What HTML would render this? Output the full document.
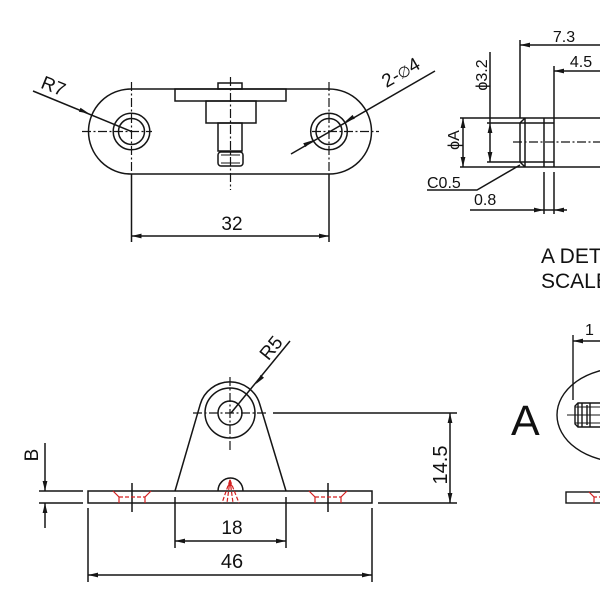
<!DOCTYPE html>
<html><head><meta charset="utf-8"><style>
html,body{margin:0;padding:0;background:#fff;}
svg{display:block;}
text{font-family:"Liberation Sans",Arial,sans-serif;fill:#111;}
</style></head><body>
<svg width="600" height="600" viewBox="0 0 600 600" xmlns="http://www.w3.org/2000/svg">
<rect x="0" y="0" width="600" height="600" fill="#fff"/>
<g fill="none" stroke="#151515" stroke-width="1.5">
  <!-- ===== Top view plate ===== -->
  <path d="M131,89 L329,89 A42.5,42.5 0 0 1 329,174 L131,174 A42.5,42.5 0 0 1 131,89 Z"/>
  <circle cx="131.5" cy="131.5" r="18.3"/>
  <circle cx="131.5" cy="131.5" r="13"/>
  <circle cx="329" cy="131.5" r="18.3"/>
  <circle cx="329" cy="131.5" r="13"/>
  <!-- pin -->
  <rect x="218" y="83" width="24" height="6"/>
  <rect x="175" y="89" width="111" height="12"/>
  <rect x="206" y="101" width="50" height="22"/>
  <rect x="218" y="123" width="24" height="28"/>
  <rect x="218" y="152" width="25" height="14" rx="3"/>
  <line x1="221" y1="155" x2="240" y2="155" stroke-width="1.1"/>
  <line x1="221" y1="163" x2="240" y2="163" stroke-width="1.1"/>
  <!-- extension lines / dims -->
  <line x1="131.5" y1="174" x2="131.5" y2="242"/>
  <line x1="329" y1="174" x2="329" y2="242"/>
  <line x1="131.5" y1="236" x2="329" y2="236"/>
  <!-- R7 leader -->
  <line x1="33" y1="91" x2="131.5" y2="131.5"/>
  <!-- 2-phi4 leader -->
  <line x1="291" y1="154" x2="435" y2="71"/>
</g>
<g fill="none" stroke="#151515" stroke-width="1.2" stroke-dasharray="9 2.5 2 2.5">
  <line x1="82" y1="131.5" x2="152" y2="131.5"/>
  <line x1="131.5" y1="82" x2="131.5" y2="174"/>
  <line x1="312" y1="131.5" x2="379" y2="131.5"/>
  <line x1="329" y1="82" x2="329" y2="174"/>
  <line x1="230.5" y1="77" x2="230.5" y2="190"/>
</g>
<g fill="#151515" stroke="none">
  <polygon points="131.5,236 141.5,233.6 141.5,238.4"/>
  <polygon points="329,236 319,233.6 319,238.4"/>
  <polygon points="89,113.5 80.5,107.7 78.9,111.7"/>
  <polygon points="313,140.2 305.4,147.1 303.2,143.3"/>
  <polygon points="345,121.8 354.8,118.7 352.6,114.9"/>
</g>
<text x="232" y="230" font-size="19" text-anchor="middle">32</text>
<text x="0" y="0" font-size="19" text-anchor="middle" transform="translate(51,92) rotate(22)">R7</text>
<text x="0" y="0" font-size="19" text-anchor="middle" transform="translate(404,78) rotate(-30)">2-<tspan font-size="15">∅</tspan>4</text>

<!-- ===== Top right detail ===== -->
<g fill="none" stroke="#151515" stroke-width="1.5">
  <line x1="460" y1="118" x2="600" y2="118"/>
  <line x1="460" y1="167" x2="600" y2="167"/>
  <line x1="487" y1="123" x2="554" y2="123"/>
  <line x1="487" y1="162" x2="554" y2="162"/>
  <line x1="520" y1="40" x2="520" y2="118"/>
  <line x1="520" y1="123" x2="520" y2="162"/>
  <line x1="520" y1="123" x2="525" y2="118"/>
  <line x1="520" y1="162" x2="525" y2="167"/>
  <line x1="525" y1="118" x2="525" y2="167"/>
  <line x1="544" y1="118" x2="544" y2="167"/>
  <line x1="544" y1="172" x2="544" y2="214"/>
  <line x1="554" y1="66" x2="554" y2="167"/>
  <line x1="554" y1="172" x2="554" y2="214"/>
  <line x1="520" y1="45" x2="600" y2="45"/>
  <line x1="554" y1="71" x2="600" y2="71"/>
  <line x1="490" y1="52" x2="490" y2="162"/>
  <line x1="463" y1="118" x2="463" y2="167"/>
  <line x1="470" y1="210" x2="567" y2="210"/>
  <polyline points="427,190 477,190 520,165"/>
</g>
<line x1="513" y1="142" x2="600" y2="142" stroke="#151515" stroke-width="1.2" stroke-dasharray="9 2.5 2 2.5"/>
<g fill="#151515">
  <polygon points="520,45 530,42.6 530,47.4"/>
  <polygon points="554,71 564,68.6 564,73.4"/>
  <polygon points="490,123 487.6,133 492.4,133"/>
  <polygon points="490,162 487.6,152 492.4,152"/>
  <polygon points="463,118 460.6,128 465.4,128"/>
  <polygon points="463,167 460.6,157 465.4,157"/>
  <polygon points="544,210 534,207.6 534,212.4"/>
  <polygon points="554,210 564,207.6 564,212.4"/>
</g>
<text x="564" y="42" font-size="16" text-anchor="middle">7.3</text>
<text x="581" y="67" font-size="16" text-anchor="middle">4.5</text>
<text x="427" y="188" font-size="16">C0.5</text>
<text x="474" y="205" font-size="16">0.8</text>
<text x="0" y="0" font-size="16" text-anchor="middle" transform="translate(487,75) rotate(-90)">ϕ3.2</text>
<text x="0" y="0" font-size="16" text-anchor="middle" transform="translate(459,140) rotate(-90)">ϕA</text>

<text x="541" y="263" font-size="21">A DETAIL</text>
<text x="541" y="288" font-size="21">SCALE 2:1</text>
<text x="511" y="435" font-size="43">A</text>
<text x="585" y="335" font-size="16">1</text>

<!-- ===== Bottom right ===== -->
<g fill="none" stroke="#151515" stroke-width="1.4">
  <ellipse cx="622" cy="415" rx="65" ry="47"/>
  <line x1="573" y1="335" x2="573" y2="400"/>
  <line x1="573" y1="341" x2="600" y2="341"/>
  <path d="M578,403 L605,403 L605,427 L578,427 L575,424 L575,406 Z"/>
  <line x1="578" y1="403" x2="578" y2="427"/>
  <line x1="582" y1="403" x2="582" y2="427"/>
  <line x1="587" y1="405" x2="587" y2="425"/>
  <line x1="590" y1="403" x2="590" y2="427"/>
  <line x1="575" y1="407" x2="600" y2="407" stroke-width="1"/>
  <line x1="575" y1="423" x2="600" y2="423" stroke-width="1"/>
  <line x1="567" y1="415" x2="600" y2="415" stroke-width="1.1"/>
  <rect x="566" y="492" width="40" height="11"/>
</g>
<polygon points="573,341 583,338.6 583,343.4" fill="#151515"/>
<g fill="none" stroke="#d42020" stroke-width="1.2">
  <polyline points="589,492 594,497 594,503"/>
  <line x1="594" y1="497" x2="600" y2="497" stroke-dasharray="3 2"/>
</g>

<!-- ===== Bottom left front view ===== -->
<g fill="none" stroke="#151515" stroke-width="1.5">
  <rect x="88" y="491" width="284" height="12"/>
  <path d="M175,491 L200.2,404.4 A31,31 0 0 1 259.7,404 L286,491"/>
  <circle cx="230" cy="413" r="25"/>
  <circle cx="230" cy="413" r="12"/>
  <path d="M218,491 A12.5,13 0 0 1 243,491"/>
  <!-- B dim -->
  <line x1="39" y1="491" x2="83" y2="491"/>
  <line x1="39" y1="503" x2="83" y2="503"/>
  <line x1="45" y1="443" x2="45" y2="491"/>
  <line x1="45" y1="503" x2="45" y2="528"/>
  <!-- 14.5 -->
  <line x1="273" y1="413" x2="457" y2="413"/>
  <line x1="378" y1="503" x2="457" y2="503"/>
  <line x1="450" y1="413" x2="450" y2="503"/>
  <!-- 18 -->
  <line x1="175" y1="497" x2="175" y2="548"/>
  <line x1="286" y1="497" x2="286" y2="548"/>
  <line x1="175" y1="541" x2="286" y2="541"/>
  <!-- 46 -->
  <line x1="88" y1="508" x2="88" y2="582"/>
  <line x1="372" y1="508" x2="372" y2="582"/>
  <line x1="88" y1="575" x2="372" y2="575"/>
  <!-- R5 leader -->
  <line x1="290" y1="341" x2="231" y2="413"/>
  <!-- countersink center marks -->
  <line x1="132" y1="483" x2="132" y2="512"/>
  <line x1="328" y1="483" x2="328" y2="512"/>
</g>
<g fill="none" stroke="#151515" stroke-width="1.2" stroke-dasharray="9 2.5 2 2.5">
  <line x1="193" y1="413" x2="268" y2="413"/>
  <line x1="230" y1="377" x2="230" y2="450"/>
</g>
<g fill="#151515">
  <polygon points="45,491 42.6,481 47.4,481"/>
  <polygon points="45,503 42.6,513 47.4,513"/>
  <polygon points="450,413 447.6,423 452.4,423"/>
  <polygon points="450,503 447.6,493 452.4,493"/>
  <polygon points="175,541 185,538.6 185,543.4"/>
  <polygon points="286,541 276,538.6 276,543.4"/>
  <polygon points="88,575 98,572.6 98,577.4"/>
  <polygon points="372,575 362,572.6 362,577.4"/>
  <polygon points="256,384 264,377.7 260.6,374.9"/>
</g>
<!-- red hidden features -->
<g fill="none" stroke="#d42020" stroke-width="1.2">
  <polyline points="113,491 119,497 119,503"/>
  <polyline points="151,491 145,497 145,503"/>
  <line x1="119" y1="497" x2="145" y2="497" stroke-dasharray="4 2"/>
  <polyline points="309,491 315,497 315,503"/>
  <polyline points="347,491 341,497 341,503"/>
  <line x1="315" y1="497" x2="341" y2="497" stroke-dasharray="4 2"/>
  <g stroke-dasharray="4 2">
    <line x1="230" y1="480" x2="222" y2="503"/>
    <line x1="230" y1="480" x2="227" y2="503"/>
    <line x1="230" y1="480" x2="233" y2="503"/>
    <line x1="230" y1="480" x2="239" y2="503"/>
  </g>
</g>
<polygon points="230,479 227.8,486 232.2,486" fill="#d42020"/>

<text x="232" y="534" font-size="19" text-anchor="middle">18</text>
<text x="232" y="568" font-size="20" text-anchor="middle">46</text>
<text x="0" y="0" font-size="20" text-anchor="middle" transform="translate(447,465) rotate(-90)">14.5</text>
<text x="0" y="0" font-size="19" text-anchor="middle" transform="translate(38,455) rotate(-90)">B</text>
<text x="0" y="0" font-size="19" text-anchor="middle" transform="translate(276,352) rotate(-51)">R5</text>
</svg>
</body></html>
